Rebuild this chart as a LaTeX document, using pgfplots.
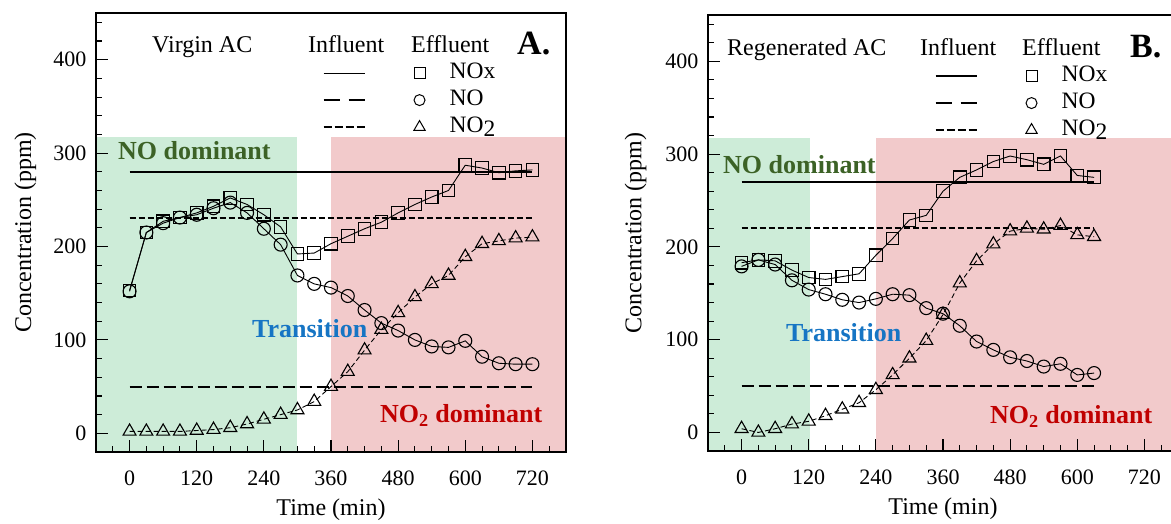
\documentclass[border=0pt]{standalone}
\usepackage{fontspec}
\setmainfont{Liberation Serif}
\setsansfont{Liberation Serif}
\usepackage{pgfplots}
\pgfplotsset{compat=1.18}
\usepackage{pgfplotstable}

\definecolor{shgreen}{RGB}{205,236,216}
\definecolor{shred}{RGB}{242,202,203}
\definecolor{txtgreen}{RGB}{60,98,38}
\definecolor{txtblue}{RGB}{22,117,196}
\definecolor{txtred}{RGB}{192,0,0}

\pgfplotstableread{
t nox no no2
0 153 152 2
30 215 215 2
60 227 225 2
90 231 231 2
120 236 234 3
150 243 241 4
180 252 247 6
210 245 236 10
240 234 219 15
270 221 202 20
300 192 169 25
330 193 160 34
360 203 156 50
390 211 147 66
420 219 132 89
450 226 118 111
480 236 110 129
510 245 100 146
540 253 93 160
570 260 92 169
600 287 99 189
630 284 82 203
660 279 75 206
690 281 74 209
720 282 74 210
}\dataA

\pgfplotstableread{
t nox no no2
0 183 179 4
30 186 186 0
60 185 181 4
90 175 164 9
120 167 154 12
150 165 149 18
180 168 143 25
210 171 140 32
240 191 144 46
270 209 149 62
300 229 148 80
330 234 134 99
360 260 128 127
390 275 115 161
420 283 98 185
450 292 89 203
480 298 81 217
510 294 77 220
540 289 71 219
570 298 74 223
600 277 62 213
630 275 64 211
}\dataB

\pgfplotsset{
  panel/.style={
    scale only axis, width=470pt, anchor=south west,
    xmin=-60, xmax=780, ymin=-20, ymax=450,
    xtick={0,120,...,720},
    minor xtick={-30,30,60,90,150,180,210,270,300,330,390,420,450,510,540,570,630,660,690,750},
    ytick={0,100,...,400},
    minor ytick={20,40,60,80,120,140,160,180,220,240,260,280,320,340,360,380,420,440},
    tick align=inside, xtick pos=left, ytick pos=left,
    major tick length=12pt, minor tick length=6pt,
    every tick/.append style={black, line width=1.1pt},
    axis line style={line width=1.3pt},
    axis on top=true,
    tick label style={font=\rmfamily\fontsize{22}{26}\selectfont},
    /pgf/number format/assume math mode=true,
    yticklabel style={xshift=-6pt},
    xticklabel style={yshift=-15pt},
    xlabel={Time (min)}, ylabel={Concentration (ppm)},
    label style={font=\rmfamily\fontsize{24}{28}\selectfont},
    xlabel style={at={(axis description cs:0.5,0)}, anchor=base, yshift=-64pt},
    legend columns=2,
    legend cell align=left,
    legend style={draw=none, fill=none, inner sep=0pt, outer sep=0pt, anchor=north west,
      font=\rmfamily\fontsize{23.5}{26}\selectfont,
      nodes={inner sep=0pt, text height=16pt, text depth=5pt},
      row sep=6pt,
      /tikz/every odd column/.append style={column sep=24.5pt},
      /tikz/every even column/.append style={column sep=23pt}},
  },
  shade/.style={draw=none, forget plot},
  infsolid/.style={black, line width=2pt, forget plot},
  infshort/.style={black, line width=2pt, dash pattern=on 6pt off 3pt, forget plot},
  inflong/.style={black, line width=2pt, dash pattern=on 12pt off 5pt, forget plot},
  effsq/.style={black, line width=0.9pt, mark=square, mark size=6.3pt, mark options={solid, line width=1.1pt, fill=none}, forget plot},
  effci/.style={black, line width=0.9pt, mark=o, mark size=6.5pt, mark options={solid, line width=1.1pt, fill=none}, forget plot},
  efftr/.style={black, line width=0.9pt, dash pattern=on 5pt off 3pt, mark=triangle, mark size=7.5pt, mark options={solid, line width=1.1pt, fill=none}, forget plot},
  leg solid/.style={legend image code/.code={\draw[black, line width=1.2pt] (0pt,0pt) -- (41pt,0pt);}},
  leg long/.style={legend image code/.code={\draw[black, line width=1.4pt, dash pattern=on 16pt off 9pt] (0pt,0pt) -- (41pt,0pt);}},
  leg short/.style={legend image code/.code={\draw[black, line width=1.4pt, dash pattern=on 8pt off 3pt] (0pt,0pt) -- (41pt,0pt);}},
}

\begin{document}
\begin{tikzpicture}
\path[use as bounding box] (0pt,0pt) rectangle (1171pt,524pt);
\clip (0pt,0pt) rectangle (1171pt,524pt);

% ---------- Panel A ----------
\begin{axis}[panel, at={(96pt,72pt)}, height=439pt,
  ylabel style={at={(axis description cs:-0.138,0.5)}, anchor=base},
  legend style={at={(0.483,0.887)}}]
  \addplot[shade, fill=shgreen] coordinates {(-60,-20) (-60,317) (300,317) (300,-20)} -- cycle;
  \addplot[shade, fill=shred] coordinates {(360,-20) (360,317) (780,317) (780,-20)} -- cycle;
  \addplot[infsolid] coordinates {(0,280) (720,280)};
  \addplot[infshort] coordinates {(0,230) (720,230)};
  \addplot[inflong] coordinates {(0,50) (720,50)};
  \addplot[effsq] table[x=t, y=nox] {\dataA};
  \addplot[effci] table[x=t, y=no] {\dataA};
  \addplot[efftr] table[x=t, y=no2] {\dataA};
  \addlegendimage{leg solid}\addlegendentry{\mbox{}}
  \addlegendimage{black, only marks, mark=square, mark size=5.5pt, line width=1pt}\addlegendentry{NOx}
  \addlegendimage{leg long}\addlegendentry{\mbox{}}
  \addlegendimage{black, only marks, mark=o, mark size=5.5pt, line width=1pt}\addlegendentry{NO}
  \addlegendimage{leg short}\addlegendentry{\mbox{}}
  \addlegendimage{black, only marks, mark=triangle, mark size=6.5pt, line width=1pt}\addlegendentry{NO\raisebox{-4pt}{2}}
\end{axis}

% ---------- Panel B ----------
\begin{axis}[panel, at={(708pt,73pt)}, height=436pt,
  ylabel style={at={(axis description cs:-0.142,0.5)}, anchor=base},
  legend style={at={(0.483,0.884)}}]
  \addplot[shade, fill=shgreen] coordinates {(-60,-20) (-60,317) (122,317) (122,-20)} -- cycle;
  \addplot[shade, fill=shred] coordinates {(240,-20) (240,317) (780,317) (780,-20)} -- cycle;
  \addplot[infsolid] coordinates {(0,270) (630,270)};
  \addplot[infshort] coordinates {(0,220) (630,220)};
  \addplot[inflong] coordinates {(0,50) (630,50)};
  \addplot[effsq] table[x=t, y=nox] {\dataB};
  \addplot[effci] table[x=t, y=no] {\dataB};
  \addplot[efftr] table[x=t, y=no2] {\dataB};
  \addlegendimage{leg solid}\addlegendentry{\mbox{}}
  \addlegendimage{black, only marks, mark=square, mark size=5.5pt, line width=1pt}\addlegendentry{NOx}
  \addlegendimage{leg long}\addlegendentry{\mbox{}}
  \addlegendimage{black, only marks, mark=o, mark size=5.5pt, line width=1pt}\addlegendentry{NO}
  \addlegendimage{leg short}\addlegendentry{\mbox{}}
  \addlegendimage{black, only marks, mark=triangle, mark size=6.5pt, line width=1pt}\addlegendentry{NO\raisebox{-4pt}{2}}
\end{axis}

% ---------- Annotations ----------
\begin{scope}[every node/.style={anchor=base west, inner sep=0pt}]
  \node[font=\rmfamily\fontsize{24}{28}\selectfont] at (152pt,471pt) {Virgin AC};
  \node[font=\rmfamily\fontsize{24}{28}\selectfont] at (308pt,471pt) {Influent};
  \node[font=\rmfamily\fontsize{24}{28}\selectfont] at (411pt,471pt) {Effluent};
  \node[font=\rmfamily\fontsize{34}{38}\selectfont\bfseries] at (517pt,469pt) {A.};
  \node[font=\rmfamily\fontsize{26}{30}\selectfont\bfseries, text=txtgreen] at (118pt,364pt) {NO dominant};
  \node[font=\rmfamily\fontsize{26}{30}\selectfont\bfseries, text=txtblue] at (252pt,186pt) {Transition};
  \node[font=\rmfamily\fontsize{26}{30}\selectfont\bfseries, text=txtred] at (380pt,101pt) {NO\textsubscript{2} dominant};

  \node[font=\rmfamily\fontsize{24}{28}\selectfont] at (727pt,468pt) {Regenerated AC};
  \node[font=\rmfamily\fontsize{24}{28}\selectfont] at (920pt,468pt) {Influent};
  \node[font=\rmfamily\fontsize{24}{28}\selectfont] at (1022pt,468pt) {Effluent};
  \node[font=\rmfamily\fontsize{34}{38}\selectfont\bfseries] at (1130pt,466pt) {B.};
  \node[font=\rmfamily\fontsize{26}{30}\selectfont\bfseries, text=txtgreen] at (723pt,350pt) {NO dominant};
  \node[font=\rmfamily\fontsize{26}{30}\selectfont\bfseries, text=txtblue] at (786pt,182pt) {Transition};
  \node[font=\rmfamily\fontsize{26}{30}\selectfont\bfseries, text=txtred] at (990pt,100pt) {NO\textsubscript{2} dominant};
\end{scope}
\end{tikzpicture}
\end{document}
